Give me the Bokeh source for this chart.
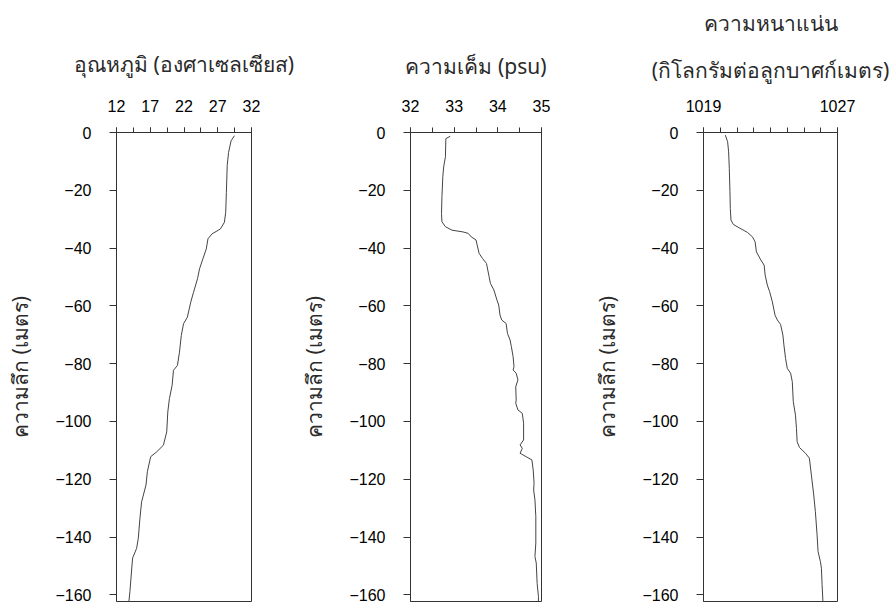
from bokeh.plotting import figure
from bokeh.layouts import row
from bokeh.models import Range1d, FixedTicker, Title
from bokeh.embed import file_html
from bokeh.resources import INLINE

# ---------------- data ----------------
depth_ticks = [0, -20, -40, -60, -80, -100, -120, -140, -160]

temp_ticks = [12, 17, 22, 27, 32]
temp_minor = [12, 14.5, 17, 19.5, 22, 24.5, 27, 29.5, 32]
temp_depth = [-1.1, -2.9, -6.9, -11.5, -20.7, -27.6, -31.1, -33.4, -35.1, -36.8,
              -40.3, -43.7, -47.2, -50.6, -55.3, -58.7, -63.9, -66.2, -70.2, -76.0,
              -80.6, -82.3, -87.5, -92.1, -96.7, -103.6, -108.2, -110.5, -112.2, -117.4,
              -122.0, -127.8, -133.5, -140.4, -143.9, -147.3, -158.8, -162.3]
temp_value = [29.47, 28.97, 28.60, 28.40, 28.28, 28.18, 27.98, 27.38, 26.14, 25.55,
              25.30, 24.80, 24.30, 24.00, 23.41, 23.00, 22.50, 21.93, 21.60, 21.33,
              21.03, 20.44, 20.24, 19.84, 19.60, 19.44, 18.95, 17.96, 17.06, 16.57,
              16.37, 15.72, 15.47, 15.23, 14.98, 14.38, 13.99, 13.84]

sal_ticks = [32, 33, 34, 35]
sal_minor = [32, 32.5, 33, 33.5, 34, 34.5, 35]
sal_depth = [-1.3, -2.1, -8.4, -11.9, -15.3, -22.2, -28.0, -30.9, -32.6, -33.8,
             -34.4, -34.9, -36.1, -37.2, -41.8, -43.6, -45.3, -49.9, -52.2, -54.5,
             -58.0, -59.7, -63.2, -64.9, -66.1, -69.5, -71.8, -74.1, -77.6, -81.0,
             -82.2, -83.3, -85.6, -88.0, -92.6, -93.7, -96.0, -97.2, -100.6, -106.4,
             -108.1, -109.3, -111.0, -112.2, -113.3, -116.8, -121.4, -123.7, -127.1, -132.9,
             -142.1, -146.7, -149.0, -156.0, -160.6, -162.3]
sal_value = [32.91, 32.81, 32.80, 32.76, 32.74, 32.72, 32.71, 32.72, 32.80, 32.95,
             33.20, 33.32, 33.39, 33.50, 33.57, 33.65, 33.74, 33.80, 33.83, 33.91,
             33.98, 34.02, 34.05, 34.09, 34.19, 34.22, 34.28, 34.31, 34.35, 34.37,
             34.35, 34.42, 34.46, 34.41, 34.42, 34.41, 34.46, 34.56, 34.59, 34.59,
             34.51, 34.56, 34.51, 34.65, 34.78, 34.81, 34.83, 34.82, 34.85, 34.87,
             34.87, 34.85, 34.88, 34.90, 34.93, 34.93]

dens_ticks = [1019, 1027]
dens_minor = [1019, 1020, 1021, 1022, 1023, 1024, 1025, 1026, 1027]
dens_depth = [-0.9, -3.2, -6.7, -12.4, -20.5, -26.3, -30.3, -31.8, -33.0, -34.6,
              -36.1, -37.8, -41.3, -44.1, -45.9, -49.3, -52.8, -55.1, -58.6, -63.2,
              -64.9, -66.4, -70.1, -73.5, -78.2, -81.6, -83.3, -86.2, -93.1, -97.8,
              -102.4, -107.0, -109.0, -111.0, -112.7, -118.5, -125.4, -131.2, -139.2, -145.0,
              -148.5, -150.8, -156.5, -162.3]
dens_value = [1020.30, 1020.44, 1020.50, 1020.54, 1020.58, 1020.60, 1020.64, 1020.78, 1021.13, 1021.63,
              1021.92, 1022.08, 1022.16, 1022.42, 1022.62, 1022.68, 1022.81, 1022.95, 1023.11, 1023.27,
              1023.41, 1023.60, 1023.74, 1023.80, 1023.90, 1024.00, 1024.20, 1024.30, 1024.36, 1024.49,
              1024.55, 1024.59, 1024.73, 1025.09, 1025.32, 1025.44, 1025.58, 1025.68, 1025.78, 1025.84,
              1025.98, 1026.04, 1026.08, 1026.13]

y_label = "ความลึก (เมตร)"
titles = [["อุณหภูมิ (องศาเซลเซียส)"], ["ความเค็ม (psu)"],
          ["(กิโลกรัมต่อลูกบาศก์เมตร)", "ความหนาแน่น"]]

# ---------------- style ----------------
FONT = "Liberation Sans"
THAI = "Noto Sans"
INK = "#333333"
TXT = "#2a2a2a"
Y_MIN = -162.3


def panel(xr, ticks, minor, xs, ys, width, left, right, title_specs):
    p = figure(width=width, height=603, x_range=Range1d(*xr), y_range=Range1d(Y_MIN, 0),
               x_axis_location="above", output_backend="svg", toolbar_location=None,
               min_border_left=left, min_border_right=right, min_border_top=132,
               min_border_bottom=2)
    p.xgrid.visible = False
    p.ygrid.visible = False
    p.outline_line_color = INK
    p.outline_line_alpha = 1
    p.background_fill_color = "white"
    p.border_fill_color = "white"

    xa = p.xaxis[0]
    xa.ticker = FixedTicker(ticks=ticks, minor_ticks=minor)
    xa.major_tick_out = 5
    xa.major_tick_in = 0
    xa.minor_tick_out = 5
    xa.minor_tick_in = 0
    xa.axis_line_color = INK
    xa.major_tick_line_color = INK
    xa.minor_tick_line_color = INK
    xa.major_label_standoff = 16
    xa.major_label_text_font = FONT
    xa.major_label_text_font_size = "16px"
    xa.major_label_text_color = "black"

    ya = p.yaxis[0]
    ya.ticker = FixedTicker(ticks=depth_ticks, minor_ticks=[])
    ya.major_tick_out = 7
    ya.major_tick_in = 0
    ya.minor_tick_line_color = None
    ya.axis_line_color = INK
    ya.major_tick_line_color = INK
    ya.major_label_standoff = 18
    ya.major_label_text_font = FONT
    ya.major_label_text_font_size = "16px"
    ya.major_label_text_color = "black"
    ya.axis_label = y_label
    ya.axis_label_text_font = THAI
    ya.axis_label_text_font_style = "normal"
    ya.axis_label_text_font_size = "21px"
    ya.axis_label_text_color = TXT
    ya.axis_label_standoff = 18

    p.line(xs, ys, line_color="#444444", line_width=1)

    for (txt, off, stand) in title_specs:
        p.add_layout(Title(text=txt, align="center", offset=off, standoff=stand,
                           text_font=THAI, text_font_size="21px", text_font_style="normal",
                           text_color=TXT), "above")
    return p


p1 = panel((12, 32), temp_ticks, temp_minor, temp_value, temp_depth, 297, 116, 46,
           [(titles[0][0], 0, 38)])
p2 = panel((32, 35), sal_ticks, sal_minor, sal_value, sal_depth, 293, 108, 49,
           [(titles[1][0], 0, 34)])
p3 = panel((1019, 1027), dens_ticks, dens_minor, dens_value, dens_depth, 300, 112, 53,
           [(titles[2][0], -8, 26), (titles[2][1], -3, 7)])

layout = row(p1, p2, p3)
open("out.html", "w").write(file_html(layout, INLINE))
